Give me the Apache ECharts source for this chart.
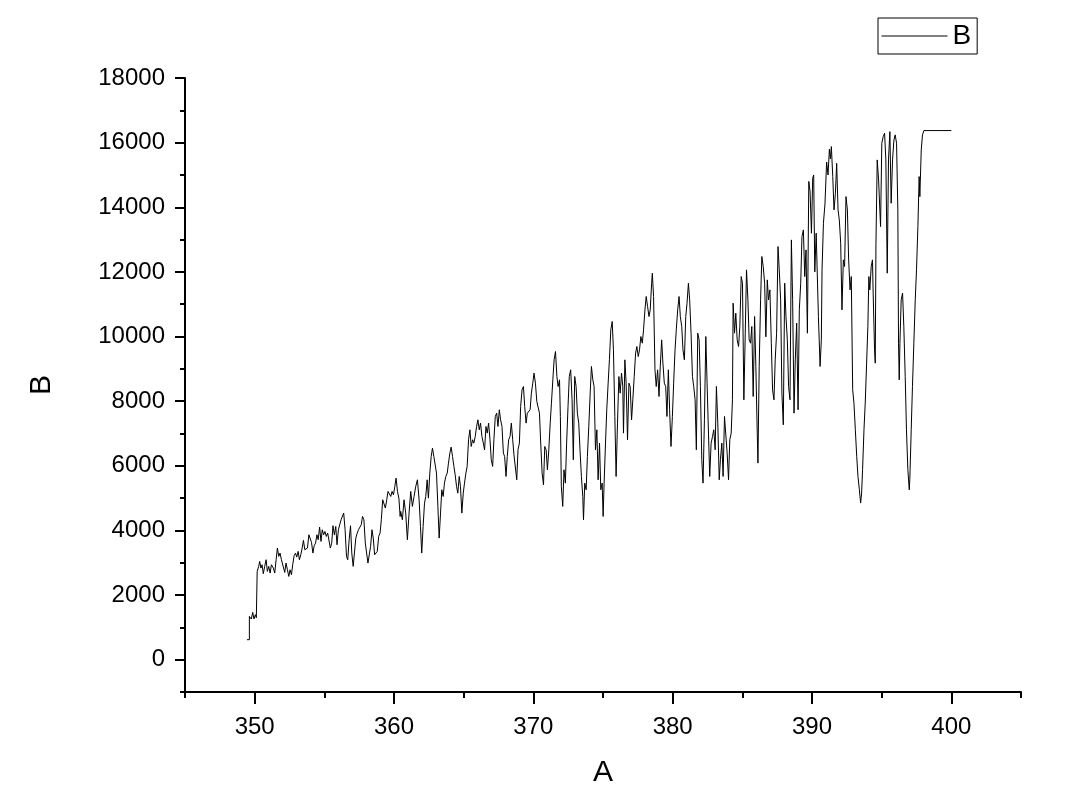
<!DOCTYPE html>
<html>
<head>
<meta charset="utf-8">
<script src="https://cdn.jsdelivr.net/npm/echarts@6/dist/echarts.min.js"></script>
<style>html,body{margin:0;padding:0;background:#fff;}#chart{width:1083px;height:798px;}</style>
</head>
<body>
<div id="chart"></div>
<script>
const seriesName = 'B';
const xAxisName = 'A';
const yAxisName = 'B';
const xMajorTicks = [350, 360, 370, 380, 390, 400];
const yMajorTicks = [0, 2000, 4000, 6000, 8000, 10000, 12000, 14000, 16000, 18000];
const aValues = [
349.45,349.62,349.62,349.76,349.86,349.95,350.05,350.12,350.17,350.18,350.29,350.36,350.45,350.53,350.62,350.72,350.82,350.91,351.01,351.11,
351.2,351.34,351.44,351.54,351.63,351.73,351.82,351.92,352.06,352.16,352.25,352.35,352.45,352.54,352.64,352.73,352.83,352.93,353.02,353.12,
353.21,353.31,353.41,353.5,353.6,353.69,353.79,353.89,353.98,354.08,354.18,354.27,354.37,354.47,354.56,354.66,354.76,354.85,354.95,355.04,
355.14,355.24,355.33,355.43,355.53,355.62,355.72,355.82,355.91,356.01,356.1,356.2,356.3,356.39,356.49,356.59,356.68,356.78,356.88,356.97,
357.07,357.16,357.26,357.36,357.45,357.55,357.65,357.74,357.84,357.94,358.03,358.13,358.22,358.32,358.42,358.51,358.61,358.71,358.8,358.9,
359.0,359.09,359.19,359.29,359.38,359.48,359.57,359.67,359.77,359.86,359.96,360.06,360.15,360.25,360.35,360.44,360.48,360.6,360.72,360.84,
360.96,361.08,361.2,361.32,361.44,361.56,361.68,361.8,361.9,361.99,362.09,362.19,362.28,362.38,362.47,362.57,362.67,362.76,362.86,362.96,
363.05,363.15,363.24,363.34,363.43,363.53,363.62,363.72,363.82,363.91,364.01,364.1,364.2,364.3,364.39,364.49,364.58,364.68,364.77,364.87,
364.97,365.06,365.16,365.25,365.35,365.45,365.54,365.64,365.73,365.83,365.93,366.02,366.12,366.21,366.31,366.41,366.5,366.6,366.69,366.79,
366.89,366.98,367.08,367.17,367.27,367.37,367.46,367.56,367.65,367.75,367.85,367.94,368.04,368.13,368.23,368.33,368.42,368.52,368.61,368.71,
368.81,368.9,369.0,369.09,369.19,369.29,369.38,369.48,369.57,369.67,369.77,369.86,369.96,370.05,370.15,370.25,370.34,370.44,370.53,370.63,
370.73,370.82,370.92,371.01,371.11,371.21,371.3,371.4,371.49,371.59,371.69,371.78,371.88,371.94,372.01,372.11,372.2,372.3,372.39,372.49,
372.58,372.68,372.78,372.87,372.97,373.07,373.16,373.26,373.35,373.45,373.55,373.6,373.69,373.79,373.88,373.98,374.08,374.17,374.27,374.36,
374.46,374.56,374.65,374.75,374.84,374.94,375.01,375.08,375.18,375.27,375.37,375.46,375.56,375.66,375.75,375.85,375.94,376.04,376.14,376.23,
376.33,376.42,376.47,376.57,376.66,376.76,376.86,376.95,377.05,377.14,377.24,377.34,377.43,377.53,377.62,377.72,377.82,377.91,378.01,378.1,
378.2,378.3,378.39,378.49,378.54,378.63,378.73,378.82,378.92,379.02,379.11,379.21,379.3,379.4,379.5,379.59,379.69,379.78,379.88,379.98,
380.07,380.17,380.26,380.36,380.46,380.55,380.65,380.74,380.84,380.94,381.03,381.13,381.22,381.32,381.42,381.51,381.61,381.7,381.8,381.9,
381.99,382.09,382.18,382.28,382.38,382.47,382.57,382.66,382.76,382.86,382.95,383.05,383.14,383.24,383.34,383.43,383.53,383.62,383.72,383.81,
383.91,384.01,384.1,384.2,384.29,384.34,384.44,384.53,384.63,384.73,384.82,384.92,385.01,385.11,385.21,385.3,385.4,385.49,385.59,385.68,
385.78,385.88,385.97,386.07,386.12,386.21,386.31,386.4,386.5,386.6,386.69,386.79,386.88,386.98,387.08,387.17,387.27,387.36,387.46,387.56,
387.65,387.75,387.84,387.94,388.04,388.13,388.23,388.32,388.42,388.52,388.61,388.71,388.8,388.9,389.0,389.09,389.19,389.28,389.38,389.48,
389.57,389.67,389.77,389.86,389.96,390.05,390.12,390.2,390.3,390.46,390.58,390.67,390.72,390.82,390.93,391.05,391.15,391.25,391.32,391.39,
391.49,391.58,391.68,391.77,391.87,391.96,392.06,392.15,392.25,392.34,392.44,392.54,392.63,392.73,392.82,392.92,393.01,393.11,393.21,393.3,
393.4,393.49,393.56,393.63,393.73,393.82,393.92,394.01,394.08,394.15,394.25,394.34,394.39,394.49,394.54,394.59,394.68,394.78,394.87,394.92,
395.01,395.11,395.21,395.3,395.4,395.49,395.59,395.68,395.78,395.88,395.97,396.07,396.16,396.21,396.26,396.31,396.4,396.5,396.59,396.69,
396.78,396.88,396.98,397.02,397.12,397.21,397.31,397.41,397.5,397.6,397.69,397.74,397.84,397.93,398.03,400.0
];
const bValues = [
619,619,1340,1258,1464,1258,1392,1299,1350,2732,2887,3041,2835,2938,2660,2887,3093,2732,2887,2680,
2938,2835,2680,3093,3454,3196,3299,3093,3113,2700,2990,2783,2577,2783,2629,2938,3216,3299,3175,3351,
3093,3248,3454,3691,3402,3351,3454,3866,3918,3630,3299,3526,3608,3866,3712,4103,3660,4021,3866,3969,
3814,3918,3866,3454,3608,4145,3866,4124,3557,4021,4021,4330,4330,4536,4021,3196,3093,3712,4145,3299,
2887,3299,3763,3918,4021,4072,4175,4433,4330,3608,3557,2990,2938,3505,4021,3763,3248,3299,3351,3814,
3918,4330,4949,4949,4691,4949,5206,5155,5052,5206,5103,5361,5619,5206,5000,4433,4588,4330,4949,4536,
3712,4536,5206,4743,5052,5361,5567,4949,4124,3299,4124,4846,5052,5567,5000,5773,6289,6547,6289,6340,
5773,4743,3763,4536,5258,5052,5464,5670,5773,6083,6392,6578,6289,5979,5722,5361,5155,5670,5361,4536,
5155,5464,5773,5979,6805,7114,6598,6805,6702,6908,7217,7423,7114,7320,6908,6702,6495,7217,7011,7320,
6805,6186,5979,6805,7526,7629,7217,7733,7423,7217,6392,6289,5670,6289,6805,6908,7320,6805,6340,6289,
5567,6495,6702,7835,8351,8454,7835,7320,7629,7577,7733,8248,8557,8867,8557,7990,7938,7629,6702,5773,
5412,6598,6495,5876,6495,7320,7938,8660,9279,9536,8764,8454,8660,7526,5361,4743,5877,5464,6702,7835,
8763,8970,8042,6186,8763,8454,7629,7320,6495,5670,5052,4330,5464,5258,6289,7217,8248,9073,8660,8454,
6495,7114,5567,6702,5258,5464,4433,5464,6702,7733,8557,9279,10207,10465,9588,7526,5670,7320,8763,8248,
8867,8454,7011,9279,8557,6805,8557,8454,7423,8042,8763,9485,9691,9381,9588,10000,9794,10207,10826,11238,
10928,10619,10826,11650,11960,11238,8970,8454,8970,8145,9073,9897,9176,8557,8454,7526,8970,7733,6598,7526,
8557,9588,10207,10826,11238,10619,10310,9588,9279,10619,11032,11650,11135,10104,8763,8454,8042,6495,10104,9897,
8454,6186,5464,7423,10000,8557,7011,5670,6702,6908,7114,6495,8454,7320,5567,6200,6702,5670,7526,7577,
6392,5567,6805,7011,8042,11032,10104,10723,9897,9691,10310,11856,11650,8042,10104,12063,11135,9897,9794,10310,
8145,10620,9073,7011,6083,9073,11135,12475,12166,11650,9991,11753,11135,11444,9794,8351,8042,9279,10104,12784,
12063,11135,8248,7268,11650,10620,9897,8454,8042,12990,11135,7629,9279,10413,7733,10826,11650,13093,13300,11856,
12681,10104,14800,14500,13196,14900,15000,12000,13200,10620,9073,9897,12063,13506,14100,15400,15000,15800,15500,15877,
14949,13918,14433,15361,13918,13609,12888,10826,12372,12166,14330,13918,12372,11444,11856,8351,7939,7114,6289,5670,
5258,4846,5155,5877,7114,7939,9176,10310,11856,11444,12166,12372,11341,9588,9176,12888,15465,14846,13918,13402,
15981,16187,16290,15465,11960,15465,16340,14124,15465,16083,16240,15981,13918,9794,8660,9794,11135,11341,10310,8763,
7114,5877,5258,5567,7114,8454,9794,11135,12063,13402,14949,14330,15774,16240,16373,16373
];

const points = aValues.map((a, i) => [a, bValues[i]]);
const FONT = '"Liberation Sans", Arial, sans-serif';
const chart = echarts.init(document.getElementById('chart'), null, {renderer: 'canvas'});
const lineCol = '#000';
chart.setOption({
  animation: false,
  backgroundColor: '#fff',
  textStyle: {fontFamily: FONT, color: '#000'},
  grid: {left: 185, right: 62, top: 78, bottom: 106, containLabel: false},
  legend: {
    show: true,
    left: 878, top: 18,
    padding: [4, 6, 4, 3],
    itemWidth: 66, itemHeight: 14, itemGap: 0,
    borderColor: '#000', borderWidth: 1,
    itemStyle: {opacity: 0},
    lineStyle: {color: '#000', width: 1},
    textStyle: {fontFamily: FONT, fontSize: 28, color: '#000'},
    data: [seriesName]
  },
  xAxis: [{
    type: 'value', min: 345, max: 405, interval: 5,
    name: xAxisName, nameLocation: 'middle', nameGap: 66,
    nameTextStyle: {fontFamily: FONT, fontSize: 30, color: '#000'},
    axisLine: {show: true, onZero: false, lineStyle: {color: lineCol, width: 2}},
    axisTick: {show: true, length: 6, lineStyle: {color: lineCol, width: 2}},
    axisLabel: {show: true, margin: 23, fontFamily: FONT, fontSize: 24, color: '#000',
      formatter: v => (xMajorTicks.indexOf(v) >= 0 ? String(v) : '')},
    splitLine: {show: false}
  }, {
    type: 'value', min: 345, max: 405, position: 'bottom',
    axisLine: {show: false, onZero: false},
    axisTick: {show: true, length: 12, customValues: xMajorTicks, lineStyle: {color: lineCol, width: 2}},
    axisLabel: {show: false},
    splitLine: {show: false}
  }],
  yAxis: [{
    type: 'value', min: -1000, max: 18000, interval: 1000,
    name: yAxisName, nameLocation: 'middle', nameGap: 128, nameRotate: 90,
    nameTextStyle: {fontFamily: FONT, fontSize: 30, color: '#000'},
    axisLine: {show: true, onZero: false, lineStyle: {color: lineCol, width: 2}},
    axisTick: {show: true, length: 5, lineStyle: {color: lineCol, width: 2}},
    axisLabel: {show: true, margin: 20, fontFamily: FONT, fontSize: 24, color: '#000',
      formatter: v => (yMajorTicks.indexOf(v) >= 0 ? String(v) : '')},
    splitLine: {show: false}
  }, {
    type: 'value', min: -1000, max: 18000, position: 'left',
    axisLine: {show: false, onZero: false},
    axisTick: {show: true, length: 10, customValues: yMajorTicks, lineStyle: {color: lineCol, width: 2}},
    axisLabel: {show: false},
    splitLine: {show: false}
  }],
  series: [{
    name: seriesName, type: 'line', data: points,
    xAxisIndex: 0, yAxisIndex: 0,
    symbol: 'none', showSymbol: false, smooth: false,
    lineStyle: {color: '#000', width: 1},
    itemStyle: {color: '#000'}
  }]
});
</script>
</body>
</html>
